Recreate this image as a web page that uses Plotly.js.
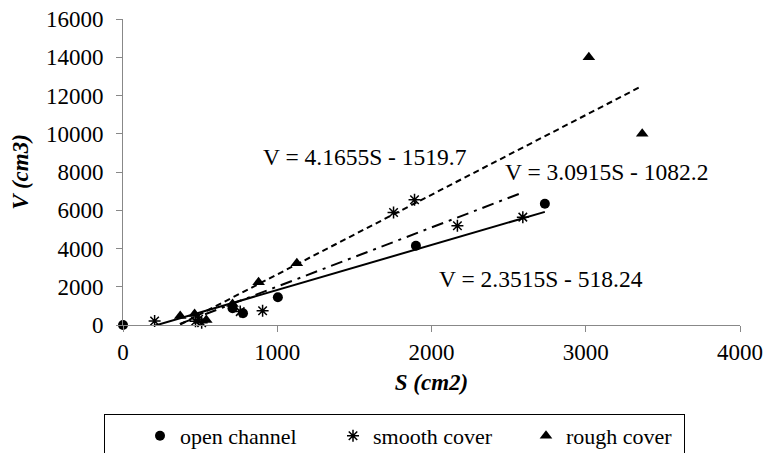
<!DOCTYPE html>
<html>
<head>
<meta charset="utf-8">
<script src="https://cdn.plot.ly/plotly-3.0.1.min.js"></script>
<style>html,body{margin:0;padding:0;background:#fff;overflow:hidden;}#chart{width:764px;height:453px;}</style>
</head>
<body>
<div id="chart"></div>
<script>
// Data
const seriesNames = ["open channel", "smooth cover", "rough cover"];
const openS = [0, 710, 778, 1004, 1899, 2735];
const openV = [0, 875, 610, 1450, 4140, 6340];
const smoothS = [205, 470, 490, 510, 760, 905, 1754, 1890, 2168, 2592];
const smoothV = [210, 200, 300, 120, 700, 750, 5880, 6550, 5190, 5640];
const roughS = [371, 464, 540, 710, 879, 1127, 3020, 3366];
const roughV = [470, 580, 260, 1100, 2240, 3230, 14000, 10000];
// Trendline coefficients (slope, intercept) as printed on the chart
const openFit = [2.3515, -518.24];
const smoothFit = [3.0915, -1082.2];
const roughFit = [4.1655, -1519.7];
const xTicks = [0, 1000, 2000, 3000, 4000];
const yTicks = [0, 2000, 4000, 6000, 8000, 10000, 12000, 14000, 16000];

const FONT = "Liberation Serif, Times New Roman, serif";

function fitLine(xs, fit, dash) {
  const x0 = Math.min(...xs), x1 = Math.max(...xs);
  return {
    x: [x0, x1], y: [fit[0] * x0 + fit[1], fit[0] * x1 + fit[1]],
    mode: "lines", type: "scatter", showlegend: false, hoverinfo: "skip",
    line: {color: "#000", width: 2, dash: dash}
  };
}

function eqText(fit) {
  return "V = " + fit[0] + "S - " + Math.abs(fit[1]);
}

const traces = [
  fitLine(openS, openFit, "solid"),
  fitLine(smoothS, smoothFit, "12px,6px,3px,6px"),
  fitLine(roughS, roughFit, "6px,4px"),
  {x: openS, y: openV, name: seriesNames[0], mode: "markers", type: "scatter", cliponaxis: false,
   marker: {symbol: "circle", size: 10, color: "#000"}},
  {x: smoothS, y: smoothV, name: seriesNames[1], mode: "markers", type: "scatter", cliponaxis: false,
   marker: {symbol: "asterisk-open", size: 10, color: "#000", line: {color: "#000", width: 1.5}}},
  {x: roughS, y: roughV, name: seriesNames[2], mode: "markers", type: "scatter", cliponaxis: false,
   marker: {symbol: "triangle-up", size: 11, color: "#000"}}
];

const layout = {
  width: 764, height: 453,
  margin: {l: 123, r: 24, t: 19, b: 128},
  paper_bgcolor: "#fff", plot_bgcolor: "#fff",
  font: {family: FONT, size: 23, color: "#000"},
  showlegend: true,
  legend: {
    orientation: "h", xref: "container", yref: "container",
    x: 104 / 764, xanchor: "left", y: 1 - 414 / 453, yanchor: "top",
    bordercolor: "#000", borderwidth: 1, font: {family: FONT, size: 22, color: "#000"},
    indentation: 35, entrywidth: 113, entrywidthmode: "pixels", traceorder: "normal"
  },
  xaxis: {
    range: [0, 4000], tickvals: xTicks, ticktext: xTicks.map(String),
    showgrid: false, zeroline: false, showline: true, linecolor: "#888", linewidth: 1,
    ticks: "outside", ticklen: 6, tickcolor: "#888", tickfont: {family: FONT, size: 23},
    title: {text: "<b><i>S (cm2)</i></b>", font: {family: FONT, size: 23}, standoff: 10}
  },
  yaxis: {
    range: [0, 16000], tickvals: yTicks, ticktext: yTicks.map(String),
    showgrid: false, zeroline: false, showline: true, linecolor: "#888", linewidth: 1,
    ticks: "outside", ticklen: 6, tickcolor: "#888", tickfont: {family: FONT, size: 23},
    ticklabelstandoff: 8,
    title: {text: "<b><i>V (cm3)</i></b>", font: {family: FONT, size: 23}, standoff: 10}
  },
  annotations: [
    {x: 1570, y: 8800, xref: "x", yref: "y", text: eqText(roughFit), showarrow: false, font: {family: FONT, size: 23.5}},
    {x: 3133, y: 8015, xref: "x", yref: "y", text: eqText(smoothFit), showarrow: false, font: {family: FONT, size: 23.5}},
    {x: 2711, y: 2410, xref: "x", yref: "y", text: eqText(openFit), showarrow: false, font: {family: FONT, size: 23.5}}
  ]
};

Plotly.newPlot("chart", traces, layout, {displayModeBar: false, staticPlot: true});
</script>
</body>
</html>
